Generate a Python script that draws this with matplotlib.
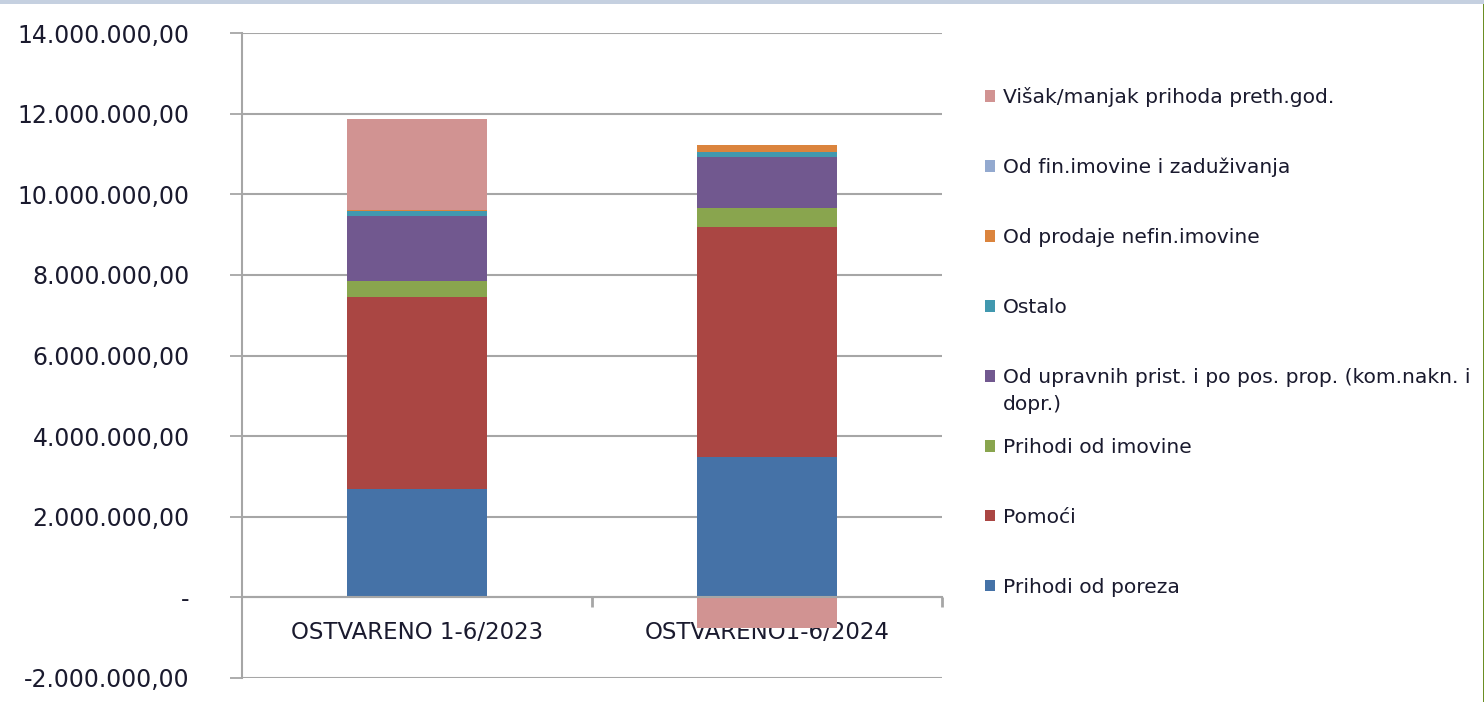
import numpy as np
import matplotlib
matplotlib.use("Agg")
import matplotlib.pyplot as plt
from matplotlib.ticker import FuncFormatter, FixedLocator
from matplotlib.patches import Rectangle

# --- data ---
categories = ["OSTVARENO 1-6/2023", "OSTVARENO1-6/2024"]
series_names = [
    "Prihodi od poreza",
    "Pomoći",
    "Prihodi od imovine",
    "Od upravnih prist. i po pos. prop. (kom.nakn. i\ndopr.)",
    "Ostalo",
    "Od prodaje nefin.imovine",
    "Od fin.imovine i zaduživanja",
    "Višak/manjak prihoda preth.god.",
]
prihodi_od_poreza = [2690000, 3480000]
pomoci = [4770000, 5720000]
prihodi_od_imovine = [400000, 470000]
upravne_pristojbe = [1610000, 1260000]
ostalo = [110000, 130000]
prodaja_nefin = [40000, 170000]
fin_imovina = [0, 0]
visak_manjak = [2250000, -770000]

colors = ["#4572A7", "#AA4643", "#89A54E", "#71588F",
          "#4198AF", "#DB843D", "#93A9CF", "#D19392"]
TXT = "#1a1a2e"
GRID = "#a6a6a6"

series = [prihodi_od_poreza, pomoci, prihodi_od_imovine, upravne_pristojbe,
          ostalo, prodaja_nefin, fin_imovina, visak_manjak]

fig = plt.figure(figsize=(14.84, 7.02), dpi=100)
ax = fig.add_axes([242 / 1484, 1 - 678 / 702, 700 / 1484, (678 - 33) / 702])

x = np.arange(len(categories))
pos_base = np.zeros(len(categories))
neg_base = np.zeros(len(categories))
bars = []
for vals, col, name in zip(series, colors, series_names):
    vals = np.array(vals, dtype=float)
    # Excel stacks negatives downward from zero, separately from positives
    bottom = np.where(vals >= 0, pos_base, neg_base)
    b = ax.bar(x, vals, 0.40, bottom=bottom, color=col, label=name, zorder=3,
               linewidth=0)
    bars.append(b)
    pos_base = pos_base + np.where(vals > 0, vals, 0)
    neg_base = neg_base + np.where(vals < 0, vals, 0)

ax.set_xlim(-0.5, 1.5)
ax.set_ylim(-2000000, 14000000)
ax.set_yticks(np.arange(-2000000, 14000001, 2000000))


def fmt(v, pos):
    if abs(v) < 1:
        return "-"
    s = f"{abs(v):,.2f}".replace(",", "X").replace(".", ",").replace("X", ".")
    return ("-" if v < 0 else "") + s


ax.yaxis.set_major_formatter(FuncFormatter(fmt))
ax.grid(axis="y", color=GRID, linewidth=1.5, zorder=0)
ax.tick_params(axis="y", length=8.6, width=1.3, color=GRID, pad=29,
               labelsize=17, labelcolor=TXT)

for s in ["top", "right"]:
    ax.spines[s].set_visible(False)
ax.spines["left"].set_color(GRID)
ax.spines["left"].set_linewidth(1.5)
ax.spines["bottom"].set_position(("data", 0))
ax.spines["bottom"].set_color(GRID)
ax.spines["bottom"].set_linewidth(1.5)
ax.spines["bottom"].set_zorder(4)

ax.xaxis.set_major_locator(FixedLocator([0.5, 1.5]))
ax.xaxis.set_major_formatter(FuncFormatter(lambda v, p: ""))
ax.xaxis.set_minor_locator(FixedLocator(x))
ax.set_xticklabels(categories, minor=True)
ax.tick_params(axis="x", which="major", direction="out", length=7.5,
               width=2, color=GRID)
ax.tick_params(axis="x", which="minor", length=0, pad=17, labelsize=16.5,
               labelcolor=TXT)

# legend, top entry first
one_line = [n.split("\n")[0] for n in series_names]
leg = fig.legend([bars[i] for i in range(7, -1, -1)],
                 [one_line[i] for i in range(7, -1, -1)],
                 loc="upper left", bbox_to_anchor=(985 / 1484, 1 - 87 / 702),
                 frameon=False, fontsize=14.6, labelcolor=TXT, borderpad=0,
                 borderaxespad=0, handlelength=0.5, handleheight=0.5,
                 handletextpad=0.4, labelspacing=2.51)

# continuation line of the wrapped legend label
fig.canvas.draw()
renderer = fig.canvas.get_renderer()
wrapped = leg.get_texts()[7 - 3]
bb = wrapped.get_window_extent(renderer)
fig.text(bb.x0 / fig.bbox.width, (bb.y0 - 8) / fig.bbox.height,
         series_names[3].split("\n")[1], fontsize=14.6, color=TXT,
         ha="left", va="top")

# thin frame of the original screenshot
fig.add_artist(Rectangle((0, 1 - 4 / 702), 1, 4 / 702, transform=fig.transFigure,
                         color="#c5d0e0", linewidth=0))
fig.add_artist(Rectangle((1 - 1.5 / 1484, 0), 1.5 / 1484, 1 - 4 / 702,
                         transform=fig.transFigure, color="#6b8e23", linewidth=0))

fig.savefig("out.png", dpi=100)
